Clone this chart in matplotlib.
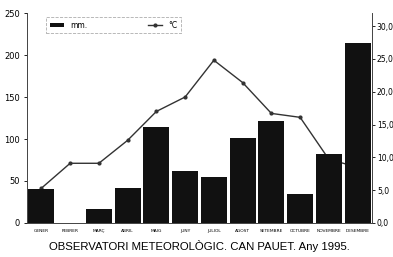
import matplotlib
matplotlib.use("Agg")
import matplotlib.pyplot as plt
import numpy as np

# Dades mensuals 1995
mesos = ["GENER", "FEBRER", "MARÇ", "ABRIL", "MAIG", "JUNY", "JULIOL",
         "AGOST", "SETEMBRE", "OCTUBRE", "NOVEMBRE", "DESEMBRE"]
pluja = [41, 0, 17, 42, 114, 62, 55, 101, 122, 34, 82, 214]   # mm.
temp = [5.3, 9.1, 9.1, 12.6, 17.0, 19.2, 24.8, 21.4, 16.7, 16.1, 9.7, 8.5]  # °C
ticks_mm = [0, 50, 100, 150, 200, 250]
ticks_c = [0, 5, 10, 15, 20, 25, 30]

fig = plt.figure(figsize=(3.93, 2.57), dpi=100)
ax = fig.add_axes([0.0687, 0.1323, 0.8779, 0.8171])
ax2 = ax.twinx()

x = np.arange(len(mesos))
# la linia queda darrere les barres
ax2.set_zorder(1)
ax.set_zorder(2)
ax.patch.set_visible(False)

ax.bar(x, pluja, width=0.9, color="#111111", label="mm.")
ax2.plot(x, temp, color="#333333", lw=1.0, marker="o", ms=2, label="°C")

ax.set_xlim(-0.5, 11.5)
ax.set_ylim(0, 250)
ax2.set_ylim(0, 32)
ax.set_yticks(ticks_mm)
ax.set_yticklabels([str(t) for t in ticks_mm], fontsize=6)
ax2.set_yticks(ticks_c)
ax2.set_yticklabels([f"{t:.1f}".replace(".", ",") for t in ticks_c], fontsize=5.5)
ax.set_xticks(x)
ax.set_xticklabels(mesos, fontsize=3.2)
ax.tick_params(axis="x", length=0, pad=4)
ax.tick_params(axis="y", length=2, width=0.6, pad=3)
ax2.tick_params(axis="y", length=2, width=0.6, pad=1.5)

for a in (ax, ax2):
    a.spines["top"].set_visible(False)
    for s in ("left", "right", "bottom"):
        a.spines[s].set_linewidth(0.6)
        a.spines[s].set_color("#444444")

h1, l1 = ax.get_legend_handles_labels()
h2, l2 = ax2.get_legend_handles_labels()
leg = ax.legend(h1 + h2, l1 + l2, loc="upper left", bbox_to_anchor=(0.045, 1.0),
                ncol=2, fontsize=5.5, frameon=True, fancybox=False,
                handlelength=1.8, handleheight=0.6, columnspacing=8, borderpad=0.5)
leg.get_frame().set_edgecolor("#999999")
leg.get_frame().set_linewidth(0.6)
leg.get_frame().set_linestyle("--")

fig.text(0.508, 0.042, "OBSERVATORI METEOROLÒGIC. CAN PAUET. Any 1995.",
         ha="center", va="center", fontsize=8.2, family="Liberation Sans")

fig.savefig("out.png", dpi=100)
